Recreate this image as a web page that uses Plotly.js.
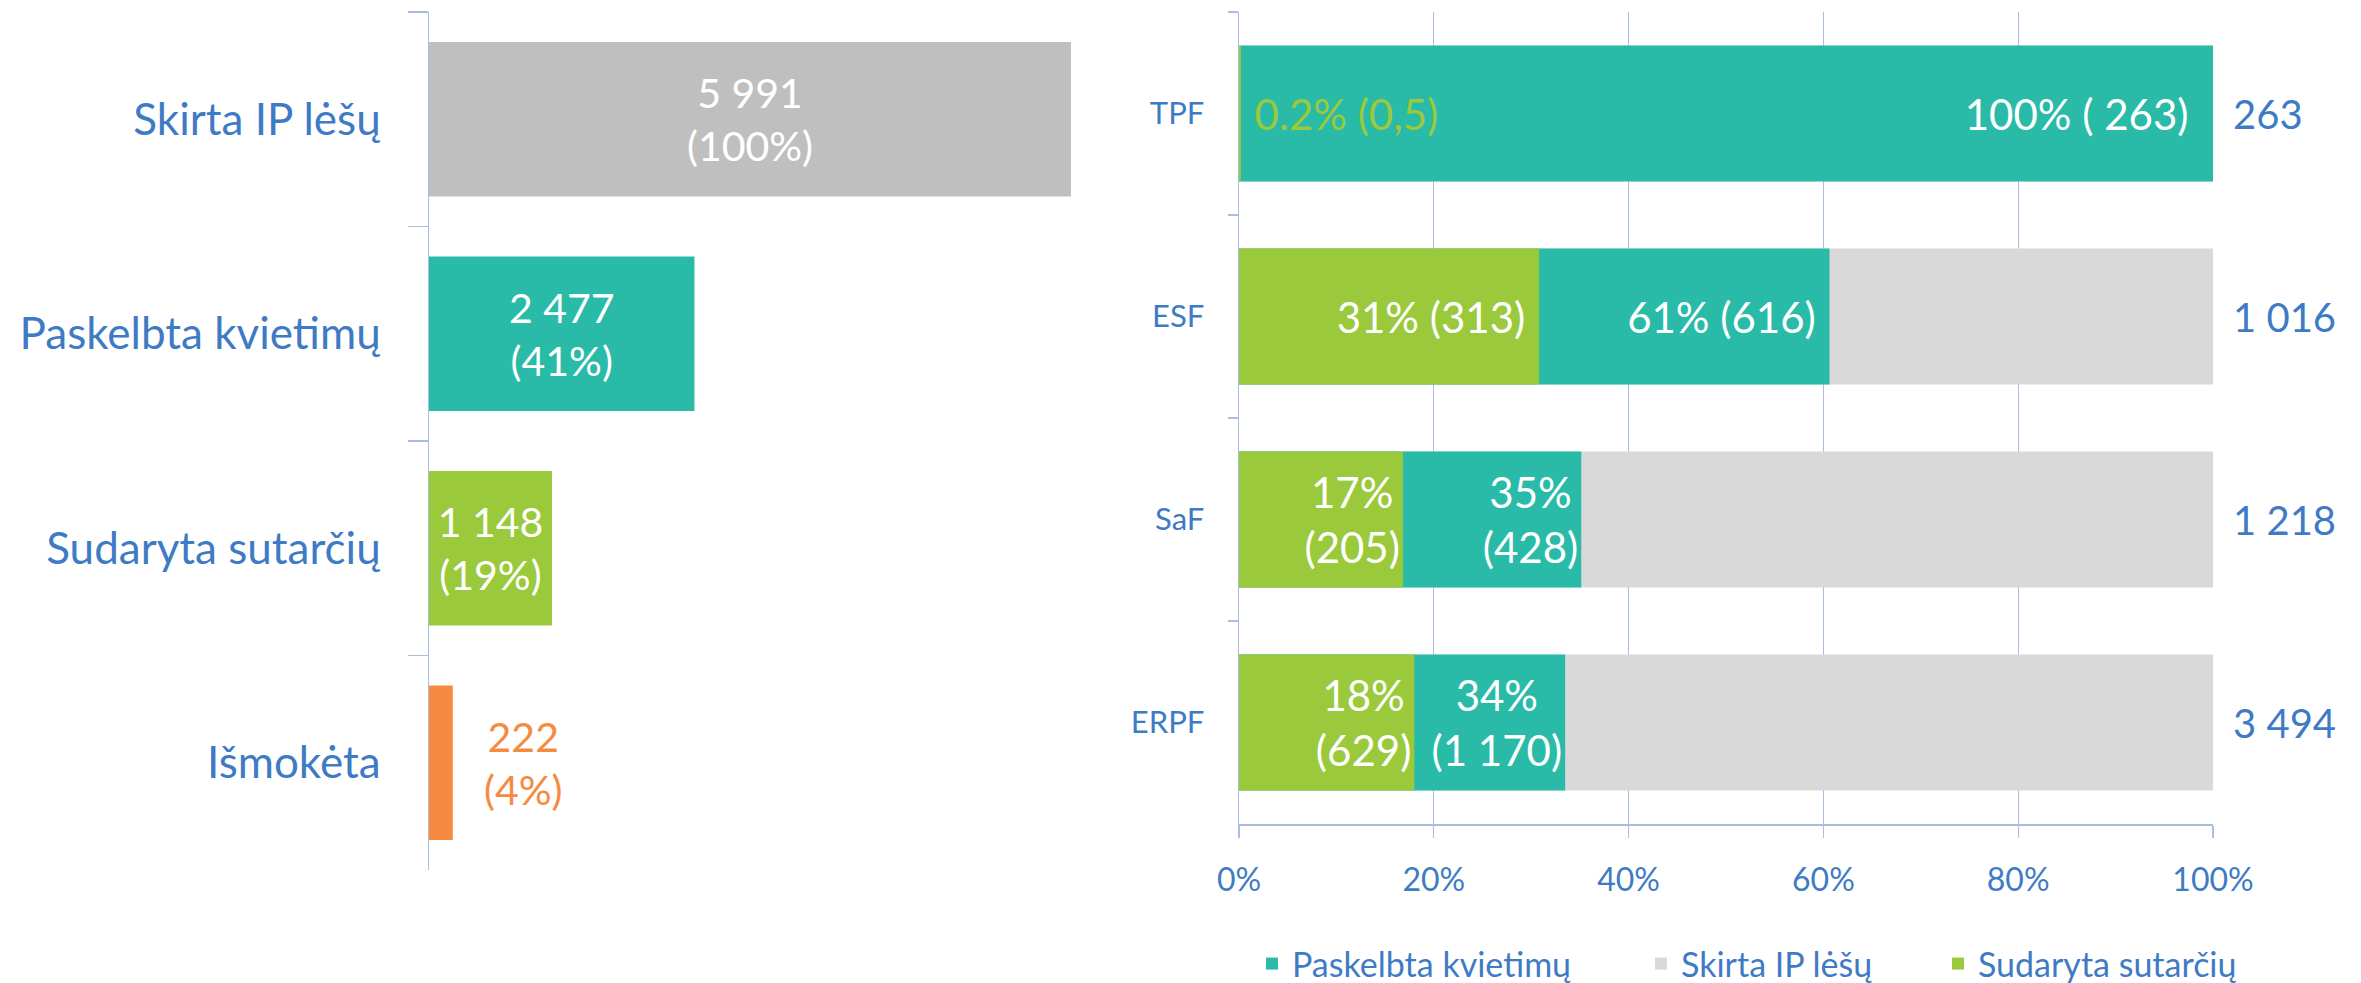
<!DOCTYPE html>
<html><head><meta charset="utf-8">
<script src="https://cdn.plot.ly/plotly-3.0.1.min.js"></script>
<style>html,body{margin:0;padding:0;background:#fff;} #chart{width:2361px;height:983px;}</style>
</head><body><div id="chart"></div>
<script>
// ---- Left chart data ----
const stageLabels = ['Skirta IP lėšų', 'Paskelbta kvietimų', 'Sudaryta sutarčių', 'Išmokėta'];
const stageValues = [5991, 2477, 1148, 222];
const stageText = ['5 991<br>(100%)', '2 477<br>(41%)', '1 148<br>(19%)', '222<br>(4%)'];

// ---- Right chart data ----
const funds = ['TPF', 'ESF', 'SaF', 'ERPF'];
const fundTotals = [263, 1016, 1218, 3494];
const fundPaskelbta = [263, 616, 428, 1170];
const fundSudaryta = [0.5, 313, 205, 629];
const paskelbtaText = ['100% ( 263)\u00a0\u00a0', '61% (616)\u00a0', '35%<br>(428)', '34%<br>(1 170)'];
const sudarytaText = ['\u00a00.2% (0,5)', '31% (313)\u00a0', '17%<br>(205)', '18%<br>(629)'];
const totalText = ['263', '1 016', '1 218', '3 494'];
const xTickVals = [0, 0.2, 0.4, 0.6, 0.8, 1];
const xTickText = ['0%', '20%', '40%', '60%', '80%', '100%'];

// ---- styles ----
const BLUE = '#3E7BC4';
const TEAL = '#29BBA8';
const GREEN = '#9ACA3C';
const GREY_L = '#BFBFBF';
const GREY_R = '#D9D9D9';
const ORANGE = '#F68A41';
const LINE = '#A9BDE0';
const FONT = 'Lato, "Open Sans", sans-serif';
const W = 2361, H = 983;
const px = v => v / W, py = v => (H - v) / H;

const stageColors = [GREY_L, TEAL, GREEN, ORANGE];
const lastIdx = stageValues.length - 1;

const traces = [
  {
    type: 'bar', orientation: 'h', xaxis: 'x', yaxis: 'y',
    x: stageValues, y: stageLabels, width: 0.72,
    marker: {color: stageColors},
    text: stageText.map((t, i) => i === lastIdx ? '' : t),
    textposition: 'inside', insidetextanchor: 'middle', constraintext: 'none',
    insidetextfont: {color: '#FFFFFF', size: 41, family: FONT},
    showlegend: false, hoverinfo: 'skip'
  },
  {
    type: 'bar', orientation: 'h', xaxis: 'x2', yaxis: 'y2', name: 'Skirta IP lėšų',
    x: fundTotals.map(t => t / t), y: funds, width: 0.67,
    marker: {color: GREY_R}, legend: 'legend2', hoverinfo: 'skip'
  },
  {
    type: 'bar', orientation: 'h', xaxis: 'x2', yaxis: 'y2', name: 'Paskelbta kvietimų',
    x: fundPaskelbta.map((v, i) => v / fundTotals[i]), y: funds, width: 0.67,
    marker: {color: TEAL}, legend: 'legend',
    text: paskelbtaText, textposition: 'inside', insidetextanchor: 'end', constraintext: 'none',
    insidetextfont: {color: '#FFFFFF', size: 42, family: FONT}, hoverinfo: 'skip'
  },
  {
    type: 'bar', orientation: 'h', xaxis: 'x2', yaxis: 'y2', name: 'Sudaryta sutarčių',
    x: fundSudaryta.map((v, i) => v / fundTotals[i]), y: funds, width: 0.67,
    marker: {color: GREEN}, legend: 'legend3',
    text: sudarytaText, textposition: ['outside', 'inside', 'inside', 'inside'],
    insidetextanchor: 'end', constraintext: 'none', cliponaxis: false,
    insidetextfont: {color: '#FFFFFF', size: 42, family: FONT},
    outsidetextfont: {color: GREEN, size: 42, family: FONT}, hoverinfo: 'skip'
  }
];

const annotations = [
  {
    xref: 'x', yref: 'y', x: stageValues[lastIdx], y: stageLabels[lastIdx],
    xanchor: 'left', yanchor: 'middle', xshift: 29, align: 'center', showarrow: false,
    text: stageText[lastIdx], font: {color: ORANGE, size: 41, family: FONT}
  }
].concat(funds.map((f, i) => ({
  xref: 'x2', yref: 'y2', x: fundTotals[i] / fundTotals[i], y: f,
  xanchor: 'left', yanchor: 'middle', xshift: 18, showarrow: false,
  text: totalText[i], font: {color: BLUE, size: 40, family: FONT}
})));

const leftEnd = 1130;
const legendBase = {
  orientation: 'h', xref: 'container', yref: 'container',
  yanchor: 'middle', y: py(964), xanchor: 'left',
  font: {color: BLUE, size: 34, family: FONT}, bgcolor: 'rgba(0,0,0,0)', borderwidth: 0
};

const layout = {
  width: W, height: H,
  margin: {l: 0, r: 0, t: 0, b: 0, autoexpand: false},
  paper_bgcolor: '#FFFFFF', plot_bgcolor: 'rgba(0,0,0,0)',
  font: {family: FONT, color: BLUE},
  barmode: 'overlay',
  showlegend: true,
  xaxis: {
    domain: [px(429), px(leftEnd)], range: [0, stageValues[0] * (leftEnd - 429) / 642],
    visible: false, anchor: 'y'
  },
  yaxis: {
    domain: [py(870), py(12)], type: 'category', autorange: 'reversed', anchor: 'x',
    showline: true, linecolor: LINE, linewidth: 1.5,
    ticks: 'outside', tickson: 'boundaries', ticklen: 20, tickcolor: LINE, tickwidth: 1.5,
    showgrid: false, zeroline: false,
    tickfont: {size: 44, color: BLUE, family: FONT}, ticklabelstandoff: 38
  },
  xaxis2: {
    domain: [px(1239), px(2213)], range: [0, 1], anchor: 'y2',
    tickvals: xTickVals, ticktext: xTickText,
    showgrid: true, gridcolor: LINE, gridwidth: 1.2, zeroline: false,
    showline: true, linecolor: LINE, linewidth: 1.5,
    ticks: 'outside', ticklen: 12, tickcolor: LINE, tickwidth: 1.2,
    tickfont: {size: 32, color: BLUE, family: FONT}, ticklabelstandoff: 15
  },
  yaxis2: {
    domain: [py(824), py(12)], type: 'category', autorange: 'reversed', anchor: 'x2',
    showline: true, linecolor: LINE, linewidth: 1.5,
    ticks: 'outside', tickson: 'boundaries', ticklen: 10, tickcolor: LINE, tickwidth: 1.5,
    showgrid: false, zeroline: false,
    tickfont: {size: 31, color: BLUE, family: FONT}, ticklabelstandoff: 27
  },
  legend: Object.assign({}, legendBase, {x: px(1252)}),
  legend2: Object.assign({}, legendBase, {x: px(1641)}),
  legend3: Object.assign({}, legendBase, {x: px(1938)}),
  annotations: annotations
};

Plotly.newPlot('chart', traces, layout, {staticPlot: true, displayModeBar: false});
</script>
</body></html>
